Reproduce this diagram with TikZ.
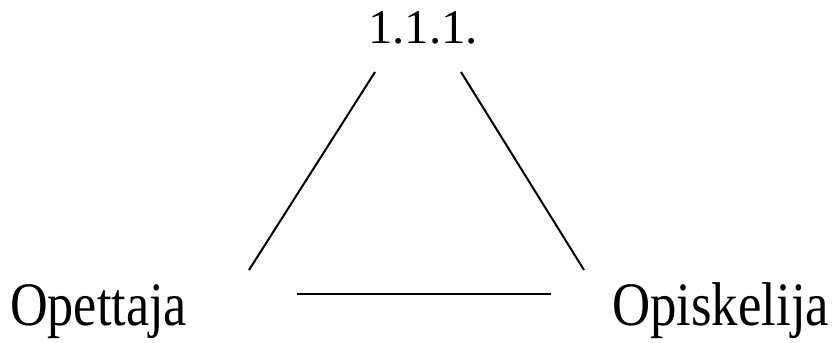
\documentclass[tikz,border=0pt]{standalone}
\usepackage{fontspec}
\setmainfont{Liberation Serif}
\begin{document}
\begin{tikzpicture}[
    x=1pt, y=-1pt,
    lbl/.style={
        inner sep=0pt,
        anchor=base west
    },
    ln/.style={line width=2pt}
]
    \useasboundingbox (0,0) rectangle (839,343);

    \node[lbl, anchor=base] (top) at (423,43)
        {\resizebox{110pt}{32pt}{1.1.1.}};
    \node[lbl] (teacher) at (10,325)
        {\scalebox{0.87}[1.03]{\fontsize{60}{72}\selectfont Opettaja}};
    \node[lbl] (student) at (612,325)
        {\scalebox{0.88}[1.03]{\fontsize{60}{72}\selectfont Opiskelija}};

    \draw[ln] ([xshift=-48pt, yshift=-29pt]top.base)
        -- ([xshift=239pt, yshift=55pt]teacher.base west);
    \draw[ln] ([xshift=38pt, yshift=-29pt]top.base)
        -- ([xshift=-28pt, yshift=55pt]student.base west);
    \draw[ln] ([xshift=287pt, yshift=31pt]teacher.base west)
        -- ([xshift=-61pt, yshift=31pt]student.base west);
\end{tikzpicture}
\end{document}
